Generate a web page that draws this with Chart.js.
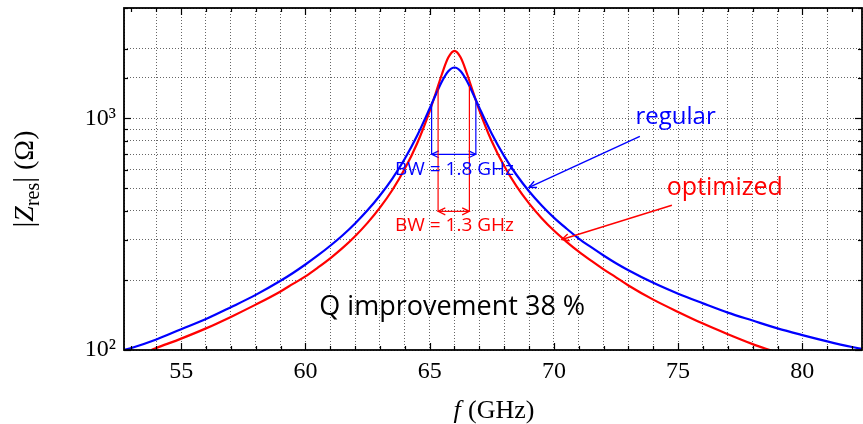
<!DOCTYPE html>
<html>
<head>
<meta charset="utf-8">
<script src="https://cdn.jsdelivr.net/npm/chart.js@4.4.1/dist/chart.umd.min.js"></script>
<style>
html, body { margin: 0; padding: 0; background: #fff; }
#wrap { width: 863px; height: 424px; }
</style>
</head>
<body>
<div id="wrap"><canvas id="myChart"></canvas></div>
<script>
// |Z_res| in ohm against f in GHz
var freqRegular = [52.7, 53, 54, 55, 56, 57, 58, 59, 59.5, 60, 60.5, 61, 61.5, 62, 62.5, 63, 63.5, 64, 64.5, 65, 65.25,
    65.5, 65.75, 66, 66.25, 66.5, 66.75, 67, 67.5, 68, 68.5, 69, 69.5, 70, 70.5, 71, 71.5, 72, 72.5, 73, 74, 75, 76,
    77, 78, 79, 80, 81, 82, 82.4];
var regular = [100, 102, 111, 123, 136, 153, 173, 199, 215, 234, 256, 282, 313, 352, 401, 465, 550, 670, 844, 1104, 1270,
    1449, 1599, 1660, 1599, 1451, 1276, 1113, 859, 688, 570, 485, 422, 373, 335, 303, 278, 256, 237, 221, 195, 175, 159,
    145, 134, 124, 116, 109, 103, 101];

var freqOptimized = [53.8, 54, 55, 56, 57, 58, 59, 59.5, 60, 60.5, 61, 61.5, 62, 62.5, 63, 63.5, 64, 64.5, 65, 65.25,
    65.5, 65.75, 66, 66.25, 66.5, 66.75, 67, 67.5, 68, 68.5, 69, 69.5, 70, 70.5, 71, 71.5, 72, 72.5, 73, 74, 75, 76,
    77, 78, 78.8];
var optimized = [100, 102, 112, 124, 139, 157, 179, 193, 208, 227, 249, 276, 310, 354, 412, 491, 606, 782, 1074, 1291,
    1560, 1832, 1960, 1833, 1564, 1299, 1085, 797, 623, 509, 430, 372, 328, 294, 266, 243, 223, 206, 190, 165, 146, 130,
    117, 106, 99];

var xTickLabels = [55, 60, 65, 70, 75, 80];
var yTickLabels = {100: '10\u00b2', 1000: '10\u00b3'};

function toPoints(xs, ys) {
    var pts = [];
    for (var i = 0; i < xs.length; i++) pts.push({x: xs[i], y: ys[i]});
    return pts;
}

var SERIF = '"Liberation Serif", "DejaVu Serif", serif';
var SANS = '"Open Sans", "Noto Sans", sans-serif';

function line(ctx, x1, y1, x2, y2) {
    ctx.beginPath();
    ctx.moveTo(x1, y1);
    ctx.lineTo(x2, y2);
    ctx.stroke();
}

function arrowHead(ctx, x, y, ang) {
    var l = 8, s = 0.45;
    ctx.beginPath();
    ctx.moveTo(x - l * Math.cos(ang - s), y - l * Math.sin(ang - s));
    ctx.lineTo(x, y);
    ctx.lineTo(x - l * Math.cos(ang + s), y - l * Math.sin(ang + s));
    ctx.stroke();
}

var overlay = {
    id: 'overlay',
    afterDraw: function(chart) {
        var ctx = chart.ctx, a = chart.chartArea;
        var xs = chart.scales.x, ys = chart.scales.y;
        var X = function(v) { return xs.getPixelForValue(v); };
        var Y = function(v) { return ys.getPixelForValue(v); };
        ctx.save();

        // inward ticks
        ctx.strokeStyle = '#000';
        ctx.lineWidth = 1.2;
        for (var f = 53; f <= 82; f++) {
            var px = Math.round(X(f)) + 0.5;
            var len = (f % 5 === 0) ? 7 : 4;
            line(ctx, px, a.bottom, px, a.bottom - len);
            line(ctx, px, a.top, px, a.top + len);
        }
        ys.ticks.forEach(function(t) {
            var py = Math.round(Y(t.value)) + 0.5;
            var major = (t.value === 100 || t.value === 1000);
            var len = major ? 7 : 4;
            line(ctx, a.left, py, a.left + len, py);
            line(ctx, a.right, py, a.right - len, py);
        });

        // frame
        ctx.lineWidth = 1.8;
        ctx.strokeRect(a.left, a.top, a.right - a.left, a.bottom - a.top);

        // bandwidth markers
        ctx.lineWidth = 1.2;
        ctx.strokeStyle = '#0000ff';
        line(ctx, X(65.08), Y(1174), X(65.08), Y(700));
        line(ctx, X(66.86), Y(1174), X(66.86), Y(700));
        line(ctx, X(65.08), Y(700), X(66.86), Y(700));
        arrowHead(ctx, X(65.08), Y(700), Math.PI);
        arrowHead(ctx, X(66.86), Y(700), 0);
        ctx.strokeStyle = '#ff0000';
        line(ctx, X(65.34), Y(1386), X(65.34), Y(397));
        line(ctx, X(66.6), Y(1386), X(66.6), Y(397));
        line(ctx, X(65.34), Y(397), X(66.6), Y(397));
        arrowHead(ctx, X(65.34), Y(397), Math.PI);
        arrowHead(ctx, X(66.6), Y(397), 0);

        // pointer arrows
        ctx.lineWidth = 1.4;
        ctx.strokeStyle = '#0000ff';
        var bx1 = X(73.46), by1 = Y(836), bx2 = X(69.0), by2 = Y(504);
        line(ctx, bx1, by1, bx2, by2);
        arrowHead(ctx, bx2, by2, Math.atan2(by2 - by1, bx2 - bx1));
        ctx.strokeStyle = '#ff0000';
        var rx1 = X(74.75), ry1 = Y(422), rx2 = X(70.32), ry2 = Y(300);
        line(ctx, rx1, ry1, rx2, ry2);
        arrowHead(ctx, rx2, ry2, Math.atan2(ry2 - ry1, rx2 - rx1));

        // labels
        ctx.textAlign = 'center';
        ctx.textBaseline = 'middle';
        ctx.fillStyle = '#0000ff';
        ctx.font = '19px ' + SANS;
        ctx.fillText('BW = 1.8 GHz', X(66.0), Y(600));
        ctx.font = '24px ' + SANS;
        ctx.fillText('regular', X(74.9), Y(1010));
        ctx.fillStyle = '#ff0000';
        ctx.font = '19px ' + SANS;
        ctx.fillText('BW = 1.3 GHz', X(66.0), Y(345));
        ctx.font = '25px ' + SANS;
        ctx.fillText('optimized', X(76.88), Y(499));
        ctx.fillStyle = '#000';
        ctx.font = '27px ' + SANS;
        ctx.fillText('Q improvement 38 %', X(65.91), Y(153));

        // x axis title: f (GHz)
        ctx.textAlign = 'left';
        ctx.textBaseline = 'alphabetic';
        ctx.font = 'italic 26px ' + SERIF;
        var wf = ctx.measureText('f').width;
        ctx.font = '26px ' + SERIF;
        var wr = ctx.measureText('\u2009(GHz)').width;
        var cx = (a.left + a.right) / 2, x0 = cx - (wf + wr) / 2, yb = a.bottom + 68;
        ctx.font = 'italic 26px ' + SERIF;
        ctx.fillText('f', x0, yb);
        ctx.font = '26px ' + SERIF;
        ctx.fillText('\u2009(GHz)', x0 + wf + 2, yb);

        // y axis title: |Z_res| (Ω)
        ctx.translate(33, (a.top + a.bottom) / 2);
        ctx.rotate(-Math.PI / 2);
        var parts = [
            {t: '|', f: '29px ' + SERIF, dy: 0},
            {t: 'Z', f: 'italic 28px ' + SERIF, dy: 0},
            {t: 'res', f: '20px ' + SERIF, dy: 6},
            {t: '|', f: '29px ' + SERIF, dy: 0},
            {t: ' (\u03a9)', f: '28px ' + SERIF, dy: 0}
        ];
        var total = 0;
        parts.forEach(function(p) { ctx.font = p.f; p.w = ctx.measureText(p.t).width; total += p.w; });
        var px0 = -total / 2;
        parts.forEach(function(p) {
            ctx.font = p.f;
            ctx.fillText(p.t, px0, p.dy);
            px0 += p.w;
        });
        ctx.restore();
    }
};

var CHART = document.getElementById('myChart');

var myChart = new Chart(CHART, {
    type: 'line',
    data: {
        datasets: [{
            label: 'regular',
            data: toPoints(freqRegular, regular),
            borderColor: '#0000ff',
            borderWidth: 2.2,
            pointRadius: 0,
            cubicInterpolationMode: 'monotone',
            fill: false
        }, {
            label: 'optimized',
            data: toPoints(freqOptimized, optimized),
            borderColor: '#ff0000',
            borderWidth: 2.2,
            pointRadius: 0,
            cubicInterpolationMode: 'monotone',
            fill: false
        }]
    },
    options: {
        responsive: true,
        maintainAspectRatio: false,
        animation: false,
        events: [],
        layout: { padding: { top: 8, right: 1, left: 0, bottom: 0 } },
        plugins: { legend: { display: false }, tooltip: { enabled: false } },
        scales: {
            x: {
                type: 'linear',
                min: 52.7,
                max: 82.4,
                afterFit: function(s) { s.height = 74; s.paddingLeft = 0; s.paddingRight = 0; },
                border: { display: false, dash: [1, 2] },
                grid: { color: 'rgba(0,0,0,0.6)', lineWidth: 1, drawTicks: false },
                ticks: {
                    stepSize: 1,
                    autoSkip: false,
                    maxRotation: 0,
                    padding: 7,
                    color: '#000',
                    font: { family: SERIF, size: 24 },
                    callback: function(v) { return xTickLabels.indexOf(v) >= 0 ? String(v) : ''; }
                }
            },
            y: {
                type: 'logarithmic',
                min: 100,
                max: 3000,
                afterFit: function(s) { s.width = 124; s.paddingTop = 0; s.paddingBottom = 0; },
                border: { display: false, dash: [1, 2] },
                grid: { color: 'rgba(0,0,0,0.6)', lineWidth: 1, drawTicks: false },
                ticks: {
                    autoSkip: false,
                    padding: 8,
                    color: '#000',
                    font: { family: SERIF, size: 24 },
                    callback: function(v) { return yTickLabels[v] || ''; }
                }
            }
        }
    },
    plugins: [overlay]
});
</script>
</body>
</html>
